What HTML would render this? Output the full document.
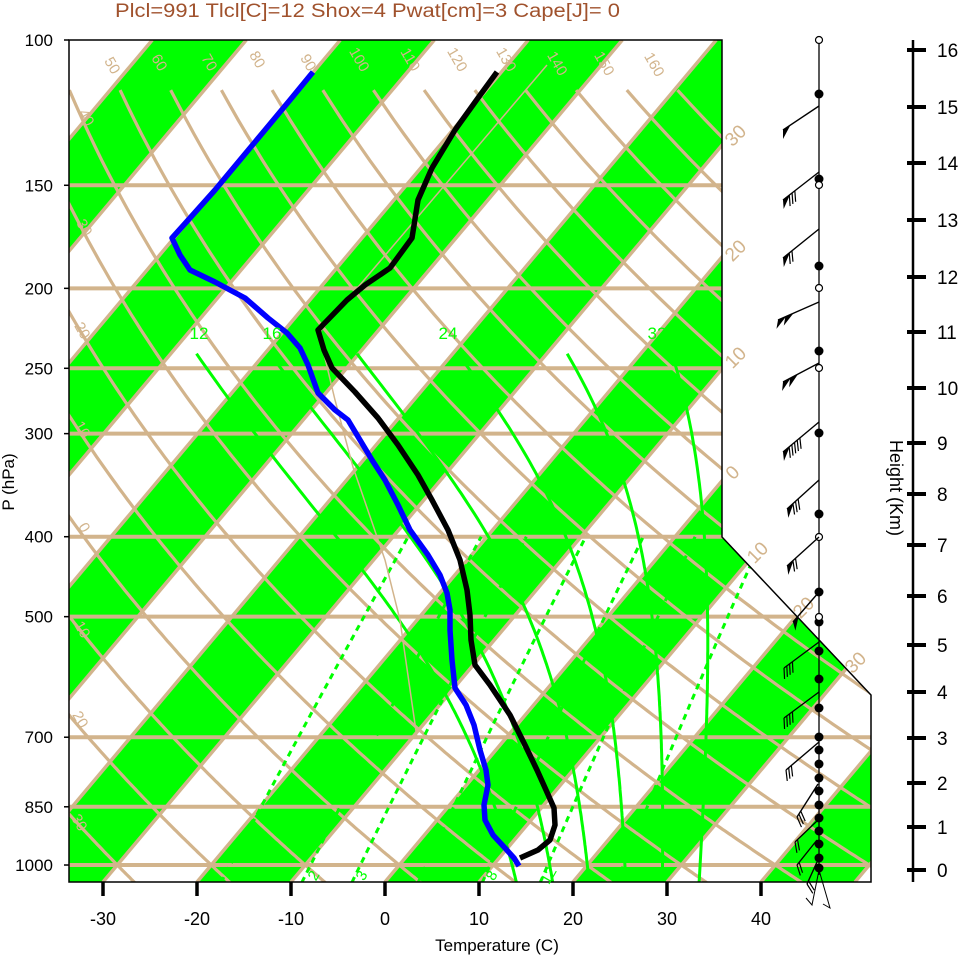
<!DOCTYPE html>
<html><head><meta charset="utf-8">
<style>
html,body{margin:0;padding:0;background:#fff;}
svg{display:block;font-family:"Liberation Sans",Arial,sans-serif;}
</style></head>
<body>
<svg id="s" width="961" height="957" viewBox="0 0 961 957" xmlns="http://www.w3.org/2000/svg">
<defs><clipPath id="cp"><polygon points="69,40 722,40 722,537 871,695 871,882 69,882"/></clipPath></defs>
<g id="plot" clip-path="url(#cp)"></g>
<g id="over"></g>
</svg>
<script>
var NS="http://www.w3.org/2000/svg";
function el(parent,tag,attrs,text){var e=document.createElementNS(NS,tag);for(var k in attrs)e.setAttribute(k,attrs[k]);if(text!==undefined)e.textContent=text;parent.appendChild(e);return e;}
var plot=document.getElementById('plot'),over=document.getElementById('over');
function yP(p){return 40+358.3*Math.log(p/100);}
function xT(T,y){return 385+9.4*T+(882-y)*0.84;}
var TAN="#d2b48c",GRN="#00ff00";
el(plot,'rect',{x:0,y:0,width:961,height:957,fill:'#fff'});
for(var Ta=-140;Ta<=60;Ta+=20){var Tb=Ta+10;
 var pts=[xT(Ta,882)+','+882,xT(Tb,882)+','+882,xT(Tb,40)+','+40,xT(Ta,40)+','+40].join(' ');
 el(plot,'polygon',{points:pts,fill:GRN});}
for(var T=-140;T<=70;T+=10){el(plot,'line',{x1:xT(T,882),y1:882,x2:xT(T,40),y2:40,stroke:TAN,'stroke-width':3.5});}
for(var th=-40;th<=170;th+=10){var d='';
 for(var p=1050;p>=113;p-=5){var TT=(th+273.15)*Math.pow(p/1000,0.2857)-273.15;var y=yP(p);d+=(d?'L':'M')+xT(TT,y).toFixed(1)+','+y.toFixed(1);}
 el(plot,'path',{d:d,fill:'none',stroke:TAN,'stroke-width':3.2});}
[150,200,250,300,400,500,700,850,1000].forEach(function(p){var y=yP(p);el(plot,'line',{x1:60,y1:y,x2:880,y2:y,stroke:TAN,'stroke-width':4});});
function Tmix(w,p){var es=w*p/(622+w);var l=Math.log(es/6.112);return 243.5*l/(17.67-l);}
[1,2,3,5,8,12,20].forEach(function(w){var d='';for(var p=1050;p>=400;p-=10){var y=yP(p);d+=(d?'L':'M')+(xT(Tmix(w,p),y)-8).toFixed(1)+','+y.toFixed(1);}
 el(plot,'path',{d:d,fill:'none',stroke:GRN,'stroke-width':3,'stroke-dasharray':'6,5'});});
function dTdp(T,p){var es=6.112*Math.exp(17.67*(T-273.15)/(T-29.65));var rs=0.622*es/(p-es);var Rd=287,cp=1005,L=2.5e6;
 return ((Rd*T+L*rs)/p)/(cp+L*L*rs*0.622/(Rd*T*T));}
[12,16,20,24,28,32].forEach(function(tw){var T=tw+273.15,p=1000;
 var Td=T;for(var q=1000;q<1050;q+=1){Td+=dTdp(Td,q);}
 var pts=[];T=Td;p=1050;
 while(p>240){pts.push([p,T]);var h=-1;T+=dTdp(T,p)*h;p+=h;}
 pts.push([p,T]);var d='';
 pts.forEach(function(a,i){if(i%5&&i!=pts.length-1)return;var y=yP(a[0]);d+=(d?'L':'M')+xT(a[1]-273.15,y).toFixed(1)+','+y.toFixed(1);});
 el(plot,'path',{d:d,fill:'none',stroke:GRN,'stroke-width':3});});
el(plot,'polyline',{points:'547,65 319,333 335,400 353,467 385,560 400,620 417,738',fill:'none',stroke:TAN,'stroke-width':1.5});
el(plot,'polyline',{points:'313,72 290,100 265,130 240,160 215,190 190,218 172,238 180,255 190,270 215,282 245,298 268,318 287,333 300,348 308,365 318,393 335,410 348,420 360,440 372,460 385,480 398,505 410,530 428,555 440,575 447,593 450,610 450,630 452,660 455,688 466,705 474,725 480,750 486,770 488,785 484,805 485,820 493,835 505,848 514,858 519,866',fill:'none',stroke:'#0000ff','stroke-width':5.5,'stroke-linejoin':'round'});
el(plot,'polyline',{points:'497,72 478,98 455,130 432,168 418,200 412,238 390,268 365,285 347,300 318,330 324,350 332,368 355,392 378,418 398,445 418,475 432,500 448,530 460,560 467,590 470,615 471,640 475,665 490,685 510,715 525,745 537,770 546,790 554,808 555,825 550,840 538,850 520,858',fill:'none',stroke:'#000','stroke-width':5.5,'stroke-linejoin':'round'});
el(over,'polygon',{points:'69,40 722,40 722,537 871,695 871,882 69,882',fill:'none',stroke:'#000','stroke-width':1.5});
function txt(x,y,s,opt){var a={x:x,y:y,'font-size':opt.fs||14,fill:opt.c||'#000','text-anchor':opt.a||'middle'};if(opt.r!==undefined)a.transform='rotate('+opt.r+' '+x+' '+y+')';if(opt.tl){a.textLength=opt.tl;a.lengthAdjust='spacingAndGlyphs';}return el(over,'text',a,s);}
[[108,68,'50'],[155,65,'60'],[205,65,'70'],[253,62,'80'],[304,65,'90'],[355,62,'100'],[406,62,'110'],[453,62,'120'],[502,62,'130'],[553,66,'140'],[600,66,'150'],[650,67,'160']].forEach(function(a){txt(a[0],a[1],a[2],{fs:15,c:TAN,r:60});});
[[82,120,'40'],[80,230,'30'],[78,333,'20'],[78,432,'10'],[80,530,'0'],[78,632,'10'],[76,722,'20'],[75,825,'30']].forEach(function(a){txt(a[0],a[1],a[2],{fs:15,c:TAN,r:60});});
[[740,140,'30'],[740,255,'20'],[740,362,'10'],[737,477,'0'],[762,557,'10'],[808,612,'20'],[860,667,'30']].forEach(function(a){txt(a[0],a[1],a[2],{fs:19,c:TAN,r:-45});});
[[199,339,'12'],[272,339,'16'],[448,339,'24'],[657,339,'32']].forEach(function(a){txt(a[0],a[1],a[2],{fs:17,c:GRN});});
[[318,878,'2'],[366,878,'3'],[496,878,'8'],[553,878,'12']].forEach(function(a){txt(a[0],a[1],a[2],{fs:15,c:GRN,r:-60});});
txt(115,17,'Plcl=991 Tlcl[C]=12 Shox=4 Pwat[cm]=3 Cape[J]= 0',{fs:19,c:'#a0522d',a:'start',tl:505});
[[100,'100'],[150,'150'],[200,'200'],[250,'250'],[300,'300'],[400,'400'],[500,'500'],[700,'700'],[850,'850'],[1000,'1000']].forEach(function(a){var y=yP(a[0]);txt(53,y+6,a[1],{fs:17,a:'end'});el(over,'line',{x1:64,y1:y,x2:69,y2:y,stroke:'#000','stroke-width':1.5});});
txt(14,482,'P (hPa)',{fs:17,r:-90});
for(var t=-30;t<=40;t+=10){var x=385+9.4*t;el(over,'line',{x1:x,y1:882,x2:x,y2:896,stroke:'#000','stroke-width':3.5});txt(x,925,String(t),{fs:18});}
txt(497,951,'Temperature (C)',{fs:17});
el(over,'line',{x1:913,y1:40,x2:913,y2:882,stroke:'#000','stroke-width':2.5});
var hy=[870,827,783,738,692,645,596,545,494,443,388,332,277,220,163,107,50];
hy.forEach(function(y,i){el(over,'line',{x1:907,y1:y,x2:926,y2:y,stroke:'#000','stroke-width':4});txt(937,y+7,String(i),{fs:19,a:'start'});});
txt(890,488,'Height (Km)',{fs:18,r:90});
el(over,'line',{x1:819,y1:40,x2:819,y2:875,stroke:'#000','stroke-width':1.3});
var filled=[94,179,266,351,433,514,592,622,651,679,708,737,750,764,778,791,805,818,831,844,858,868];
filled.forEach(function(y){el(over,'circle',{cx:819,cy:y,r:4.5,fill:'#000'});});
[40,185,288,368,537,617].forEach(function(y){el(over,'circle',{cx:819,cy:y,r:3.5,fill:'#fff',stroke:'#000','stroke-width':1.2});});
var barbs=[[819,106,783,130,1,0],[819,172,783,200,1,3],[819,229,783,258,1,2],[819,302,778,320,2,0],[819,363,783,382,2,0],[819,422,783,452,1,5],[819,480,787,509,1,3],[819,537,787,566,1,2],[819,592,793,622,1,0],[819,642,784,668,0,4],[819,692,784,718,0,4],[819,742,786,770,0,3],[818,784,797,817,0,3],[818,820,795,842,0,2],[817,840,797,865,0,2],[817,862,807,884,0,2]];
barbs.forEach(function(b){var sx=b[0],sy=b[1],ex=b[2],ey=b[3];
 el(over,'line',{x1:sx,y1:sy,x2:ex,y2:ey,stroke:'#000','stroke-width':1.4});
 var L=Math.hypot(sx-ex,sy-ey),dx=(sx-ex)/L,dy=(sy-ey)/L;var nx=-dy*0.6-dx*0.4,ny=dx*0.6-dy*0.4;var nl=Math.hypot(nx,ny);nx/=nl;ny/=nl;
 var pos=0;
 for(var i=0;i<b[4];i++){var ax=ex+dx*pos,ay=ey+dy*pos,bx=ex+dx*(pos+9),by=ey+dy*(pos+9);
  var cx=ax+nx*9,cy=ay+ny*9;
  el(over,'polygon',{points:ax+','+ay+' '+bx+','+by+' '+cx+','+cy,fill:'#000'});pos+=8;}
 for(var j=0;j<b[5];j++){var fx=ex+dx*(pos+j*3.5),fy=ey+dy*(pos+j*3.5);
  el(over,'line',{x1:fx,y1:fy,x2:fx+nx*11,y2:fy+ny*11,stroke:'#000','stroke-width':1.2});}
});
el(over,'polyline',{points:'819,870 830,908 823,904',fill:'none',stroke:'#000','stroke-width':1});
el(over,'polyline',{points:'819,870 812,905 806,898',fill:'none',stroke:'#000','stroke-width':1});
</script>
</body></html>
